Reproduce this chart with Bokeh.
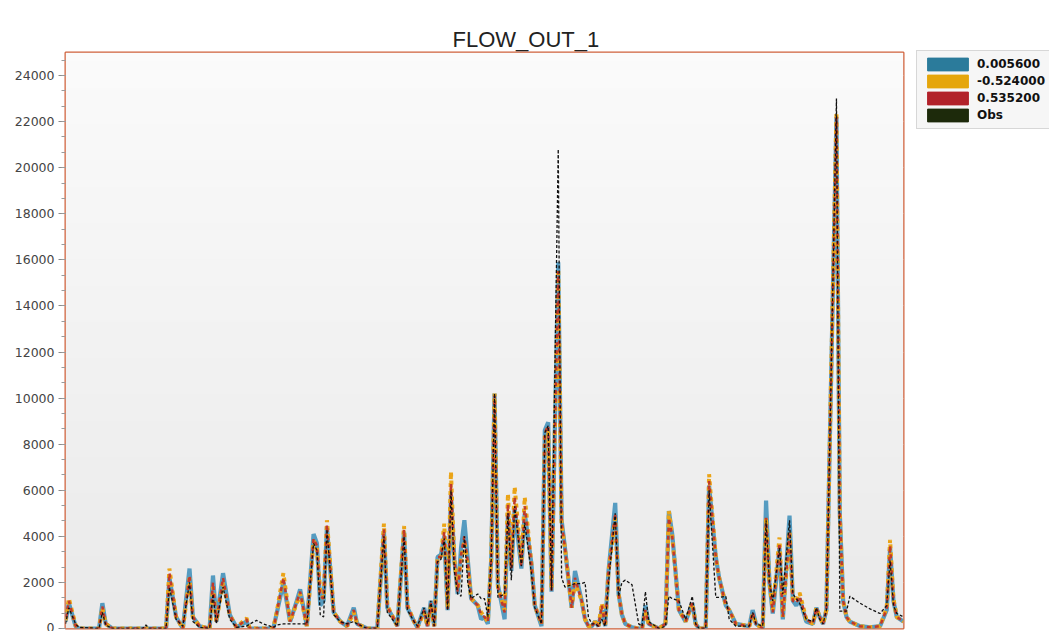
import numpy as np
from bokeh.plotting import figure
from bokeh.models import (Range1d, FixedTicker, Legend, LegendItem, ColumnDataSource)
from bokeh.embed import file_html
from bokeh.resources import INLINE

# ---------------- data ----------------
days = [0, 1, 3, 4, 10, 11, 12, 14, 23, 24, 25, 30, 31, 33, 35, 37, 38, 40, 43, 44,
        45, 47, 49, 51, 54, 55, 57, 59, 62, 63, 65, 67, 69, 70, 72, 74, 75, 76, 77, 78,
        80, 82, 84, 86, 87, 90, 93, 95, 96, 98, 99, 101, 102, 104, 105, 107, 108, 109, 110, 111,
        112, 113, 114, 115, 116, 117, 118, 119, 120, 121, 123, 124, 125, 126, 127, 128, 129, 131, 132, 133,
        134, 136, 137, 139, 140, 142, 143, 144, 145, 147, 148, 149, 151, 152, 154, 155, 156, 157, 158, 159,
        160, 161, 162, 164, 165, 166, 167, 169, 171, 172, 173, 174, 177, 179, 180, 181, 183, 185, 187, 188,
        189, 191, 192, 194, 195, 197, 198, 200, 204, 205, 206, 208, 209, 210, 211, 213, 214, 216, 217, 218,
        219, 221, 223, 224, 225, 226, 227, 228, 230, 231, 232, 233, 234, 237, 240, 243, 245, 246, 247, 248,
        250]

sim_0_005600 = [300, 1100, 100, 0, 0, 1100, 200, 0, 0, 0, 0, 0, 2200, 500, 0, 2600, 500, 100, 0, 2300,
                300, 2400, 600, 50, 300, 0, 0, 0, 0, 650, 2000, 300, 1200, 1700, 100, 4100, 3700, 1000, 1200, 4400,
                700, 300, 100, 900, 200, 0, 0, 4200, 900, 400, 100, 4200, 900, 300, 50, 900, 100, 1200, 100, 3100,
                3200, 4000, 800, 5800, 3000, 1500, 3500, 4700, 3000, 1300, 1000, 400, 500, 200, 3000, 10200, 1900, 400, 5000, 2500,
                5200, 2600, 5000, 2800, 1000, 100, 8600, 8950, 1600, 15900, 4700, 3500, 900, 2500, 1200, 400, 100, 100, 300, 100,
                800, 100, 2500, 5450, 1500, 600, 200, 50, 0, 0, 1000, 200, 0, 200, 5100, 4100, 800, 300, 1100, 200,
                0, 0, 6200, 3100, 2200, 1000, 800, 200, 100, 800, 200, 0, 5550, 2000, 650, 3500, 400, 4900, 1200, 1000,
                1300, 300, 200, 900, 500, 200, 800, 8000, 22200, 5000, 1200, 500, 300, 100, 50, 100, 800, 3500, 1200, 500,
                300]

sim_m0_524000 = [350, 1300, 150, 0, 0, 900, 200, 0, 0, 0, 0, 0, 2600, 500, 0, 2200, 500, 100, 0, 1800,
                 300, 2000, 600, 50, 450, 0, 0, 0, 0, 700, 2400, 300, 1100, 1500, 100, 3800, 3500, 1600, 1300, 4700,
                 700, 300, 100, 700, 200, 0, 0, 4550, 1000, 400, 100, 4450, 1000, 300, 50, 700, 100, 1000, 100, 3100,
                 3100, 4550, 900, 6800, 3000, 1700, 3000, 3800, 2800, 1300, 1000, 700, 500, 300, 3000, 10200, 1800, 800, 5850, 2700,
                 6150, 2800, 5700, 2800, 1000, 200, 8400, 8700, 1700, 15600, 4500, 3500, 900, 2000, 1200, 400, 100, 100, 300, 100,
                 1100, 100, 2500, 4800, 1500, 600, 200, 50, 0, 0, 700, 200, 0, 200, 5100, 4000, 800, 300, 1100, 200,
                 0, 0, 6700, 3100, 2200, 1000, 800, 200, 100, 600, 200, 0, 4800, 2000, 800, 3950, 500, 4200, 1200, 1200,
                 1550, 400, 200, 900, 500, 200, 800, 8000, 22400, 5000, 1200, 500, 300, 100, 50, 100, 900, 3850, 1300, 500,
                 300]

sim_0_535200 = [320, 1200, 120, 0, 0, 950, 200, 0, 0, 0, 0, 0, 2400, 500, 0, 2300, 500, 100, 0, 2000,
                300, 2200, 600, 50, 400, 0, 0, 0, 0, 650, 2200, 300, 1150, 1600, 100, 3900, 3600, 1400, 1300, 4500,
                700, 300, 100, 800, 200, 0, 0, 4300, 950, 400, 100, 4300, 950, 300, 50, 800, 100, 1100, 100, 3100,
                3100, 4200, 850, 6300, 3000, 1600, 3200, 4000, 2900, 1300, 1000, 600, 500, 300, 3000, 10100, 1800, 700, 5400, 2600,
                5700, 2700, 5300, 2800, 1000, 200, 8500, 8800, 1650, 15500, 4600, 3500, 900, 2200, 1200, 400, 100, 100, 300, 100,
                1000, 100, 2500, 5000, 1500, 600, 200, 50, 0, 0, 800, 200, 0, 200, 4800, 4000, 800, 300, 1100, 200,
                0, 0, 6400, 3100, 2200, 1000, 800, 200, 100, 700, 200, 0, 4800, 2000, 700, 3700, 500, 4200, 1200, 1100,
                1400, 400, 200, 900, 500, 200, 800, 8000, 22200, 5000, 1200, 500, 300, 100, 50, 100, 850, 3600, 1200, 500,
                300]

obs = [200, 900, 200, 50, 0, 700, 150, 0, 0, 150, 0, 0, 1800, 400, 100, 2000, 300, 50, 0, 1500,
       200, 1800, 400, 50, 100, 200, 350, 200, 50, 150, 200, 200, 200, 200, 200, 3700, 3400, 600, 500, 4300,
       600, 300, 200, 300, 200, 0, 0, 4000, 700, 300, 100, 4000, 800, 300, 100, 900, 200, 1200, 100, 2900,
       3000, 3900, 800, 6000, 2500, 1500, 1400, 4000, 2000, 1300, 1500, 1300, 1300, 500, 3000, 10200, 1350, 1500, 5000, 2100,
       5300, 2700, 4600, 2400, 900, 200, 8500, 8800, 1650, 20800, 2200, 1800, 1900, 1950, 1950, 2000, 500, 200, 200, 100,
       400, 100, 2000, 5000, 1400, 2000, 2100, 1900, 200, 100, 1600, 300, 0, 100, 1400, 1300, 1200, 400, 1400, 200,
       0, 0, 6000, 1350, 1350, 1400, 400, 100, 100, 700, 200, 100, 4700, 2000, 1200, 3500, 1500, 4700, 1500, 1300,
       1100, 400, 300, 900, 400, 200, 800, 8000, 23000, 750, 750, 750, 1400, 1100, 850, 650, 1000, 2950, 1000, 650,
       500]

series_labels = ["0.005600", "-0.524000", "0.535200", "Obs"]
y_ticks = list(range(0, 24001, 2000))
y_minor = [i * 2000 / 3 for i in range(0, 38)]
y_max = 25000
title_text = "FLOW_OUT_1"

# ---------------- figure ----------------
FW, FH = 838, 576
p = figure(frame_width=FW, frame_height=FH, output_backend="svg", toolbar_location=None,
           x_range=Range1d(min(days), max(days)), y_range=Range1d(0, y_max),
           min_border_left=65, min_border_right=0, min_border_top=52, min_border_bottom=3)

p.background_fill_color = "#f1f1f1"
p.border_fill_color = "white"
p.outline_line_color = "#d0603a"
p.outline_line_width = 2

# soft vertical gradient in the plot area
n = 64
grad = np.zeros((n, 1), dtype=np.uint32)
view = grad.view(dtype=np.uint8).reshape((n, 1, 4))
for i in range(n):
    c = int(234 + (251 - 234) * i / (n - 1))
    view[i, 0, :] = [c, c, c, 255]
p.image_rgba(image=[grad], x=min(days), y=0, dw=max(days) - min(days), dh=y_max)

# title
p.title.text = title_text
p.title.align = "left"
p.title.offset = 387
p.title.standoff = 2
p.title.text_line_height = 1.2
p.title.text_font = "Liberation Sans"
p.title.text_font_size = "22px"
p.title.text_font_style = "normal"
p.title.text_color = "#222222"

# axes
p.xaxis.visible = False
p.xgrid.visible = False
p.yaxis.ticker = FixedTicker(ticks=y_ticks, minor_ticks=y_minor)
p.yaxis.axis_line_color = None
p.yaxis.major_tick_line_color = "#8a8a8a"
p.yaxis.minor_tick_line_color = "#9a9a9a"
p.yaxis.major_tick_out = 7
p.yaxis.major_tick_in = 0
p.yaxis.minor_tick_out = 4
p.yaxis.minor_tick_in = 0
p.yaxis.major_label_text_font = "DejaVu Sans"
p.yaxis.major_label_text_font_size = "12.5px"
p.yaxis.major_label_text_color = "#444444"
p.yaxis.major_label_standoff = 4
p.ygrid.grid_line_color = "#ddd4c0"
p.ygrid.grid_line_width = 1

src = ColumnDataSource(dict(x=days, a=sim_0_005600, b=sim_m0_524000, c=sim_0_535200, o=obs))

p.line("x", "a", source=src, line_color="#3b8db8", line_width=4.2, line_alpha=0.85)
p.line("x", "b", source=src, line_color="#eaa417", line_width=4, line_dash="4 4")
p.line("x", "c", source=src, line_color="#c0392b", line_width=2.5, line_dash="4 4", line_dash_offset=4)
p.line("x", "o", source=src, line_color="#111111", line_width=1.3, line_dash="3 2")

# legend swatches (renderers with no visible data)
sw_fill = ["#2b7b9b", "#e5a60c", "#b2222a", "#1d2a0b"]
items = []
for lab, col in zip(series_labels, sw_fill):
    r = p.quad(left=[np.nan], right=[np.nan], top=[np.nan], bottom=[np.nan],
               fill_color=col, line_color=col)
    items.append(LegendItem(label=lab, renderers=[r]))

LEG_H = 2 * 5 + 4 * 16 + 3 * 1
legend = Legend(items=items, location=(13, FH - LEG_H), glyph_width=51, glyph_height=16,
                label_height=16, spacing=1, padding=5, margin=13, label_standoff=4,
                label_text_font="DejaVu Sans", label_text_font_style="bold",
                label_text_font_size="12px", label_text_color="#111111",
                background_fill_color="#f5f5f5", border_line_color="#b8b8b8",
                border_line_width=1)
p.add_layout(legend, "right")

open("out.html", "w").write(file_html(p, INLINE))
